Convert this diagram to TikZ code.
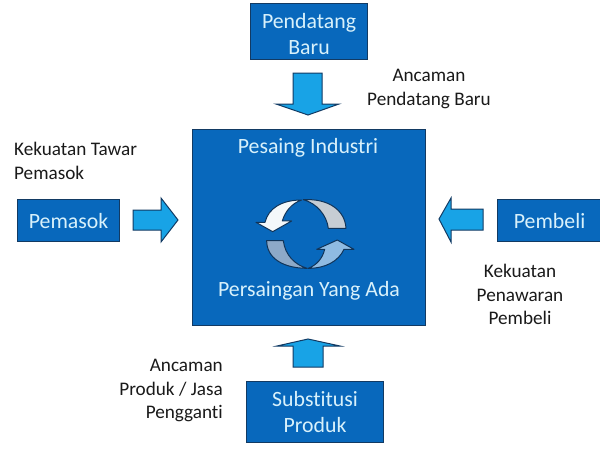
\documentclass[tikz,border=0pt]{standalone}
\usepackage{fontspec}
\setmainfont[Ligatures=NoCommon]{Carlito}
\definecolor{boxblue}{HTML}{0868BC}
\definecolor{boxedge}{HTML}{123A63}
\definecolor{arrowblue}{HTML}{18A3E6}
\definecolor{boxtext}{HTML}{D8F1FB}
\definecolor{labeltext}{HTML}{1A1A1A}
\definecolor{cyclewhite}{HTML}{F4F8FA}
\definecolor{cyclegray}{HTML}{C6CDD4}
\definecolor{cycleleft}{HTML}{8DA9C8}
\definecolor{cycleright}{HTML}{8FBBE2}
\tikzset{
  x=1pt,y=-1pt,
  forcebox/.style={draw=boxedge,line width=1.1pt,fill=boxblue,text=boxtext,align=center,font=\fontsize{21.8}{26}\selectfont,inner sep=0pt,anchor=north west},
  boxcaption/.style={text=boxtext,font=\fontsize{21.8}{26}\selectfont,inner sep=0pt},
  forcelabel/.style={text=labeltext,font=\fontsize{19.2}{23.3}\selectfont,inner sep=0pt},
  blockarrow/.style={draw=boxedge,line width=1pt,fill=arrowblue,line join=miter},
  cyclearrow/.style={draw=boxedge!90!black,line width=1pt,line join=round}
}
\begin{document}
\begin{tikzpicture}
\useasboundingbox (0,0) rectangle (600,463);
\fill[white] (0,0) rectangle (600,463);
% boxes
\node[forcebox,minimum width=233pt,minimum height=196pt] (main) at (192,129) {};
\node[forcebox,minimum width=117pt,minimum height=56pt] (newcomer) at (250,3) {\rule{0pt}{21pt}Pendatang\\Baru};
\node[forcebox,minimum width=102pt,minimum height=42pt] (supplier) at (17,199) {Pemasok};
\node[forcebox,minimum width=104pt,minimum height=42pt] (buyer) at (497,199) {Pembeli};
\node[forcebox,minimum width=137pt,minimum height=61pt] (subst) at (246,381) {Substitusi\\Produk};
% captions
\node[boxcaption] (maintop) at (308,148) {Pesaing Industri};
\node[boxcaption] (mainbot) at (309,291) {Persaingan Yang Ada};
% labels
\node[forcelabel,align=center] (l1) at (429,89) {Ancaman\\Pendatang Baru};
\node[forcelabel,align=left,anchor=west] (l2) at (14,161) {Kekuatan Tawar\\Pemasok};
\node[forcelabel,align=center] (l3) at (520,294.5) {Kekuatan\\Penawaran\\Pembeli};
\node[forcelabel,align=right,anchor=east] (l4) at (223,390.5) {Ancaman\\Produk / Jasa\\Pengganti};
% block arrows
\draw[blockarrow] (293,73) -- (322,73) -- (322,104) -- (339,104) -- (308,115) -- (276,104) -- (293,104) -- cycle;
\draw[blockarrow] (133,210) -- (161,210) -- (161,198) -- (178,220) -- (161,242) -- (161,230) -- (133,230) -- cycle;
\draw[blockarrow] (483,209) -- (451,209) -- (451,198) -- (439,219) -- (451,242) -- (451,230) -- (483,230) -- cycle;
\draw[blockarrow] (293,367) -- (323,367) -- (323,346) -- (340,346) -- (308,339) -- (277,346) -- (293,346) -- cycle;
% cycle arrows
\begin{scope}[shift={(250,190)},x=0.3333pt,y=-0.3333pt]
\draw[cyclearrow,fill=cyclewhite] (155,30) .. controls (95,30) and (55,55) .. (45,97) -- (18,97) -- (68,125) -- (125,93) -- (97,93) .. controls (105,65) and (125,40) .. (155,30) -- cycle;
\draw[cyclearrow,fill=cyclegray] (160,29) .. controls (235,25) and (285,60) .. (288,115) -- (235,115) .. controls (230,75) and (200,40) .. (160,29) -- cycle;
\draw[cyclearrow,fill=cycleleft] (50,152) -- (100,152) .. controls (105,195) and (135,225) .. (172,235) .. controls (100,235) and (50,205) .. (50,152) -- cycle;
\draw[cyclearrow,fill=cycleright] (175,235) .. controls (200,225) and (218,205) .. (224,178) -- (200,178) -- (262,150) -- (312,178) -- (282,178) .. controls (265,215) and (225,235) .. (175,235) -- cycle;
\end{scope}
\end{tikzpicture}
\end{document}
